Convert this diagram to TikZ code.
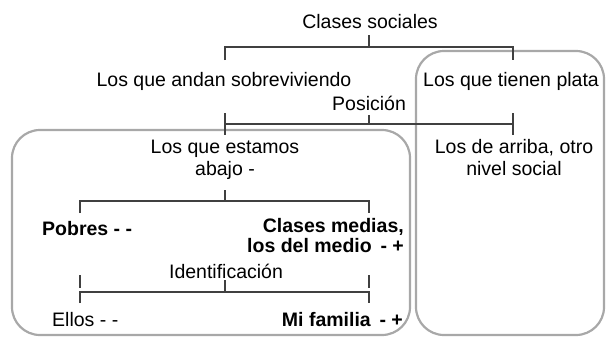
\documentclass[tikz,border=0pt]{standalone}
\usepackage{fontspec}
\setmainfont{Liberation Sans}
\definecolor{linec}{HTML}{404040}
\definecolor{boxc}{HTML}{A8A8A8}
\tikzset{
  conn/.style={draw=linec, line width=1.2pt},
  grpbox/.style={draw=boxc, line width=2.2pt, rounded corners=28pt},
  lbl/.style={inner sep=0pt, font=\fontsize{19.5}{22}\selectfont, text=black},
  blbl/.style={lbl, font=\fontsize{19.5}{20}\selectfont\bfseries},
}
\begin{document}
\begin{tikzpicture}[x=1pt,y=-1pt]
\useasboundingbox (0,0) rectangle (607,338);
% group boxes
\draw[grpbox] (12,130) rectangle (410,335);
\draw[grpbox] (416,51) rectangle (604,335);
% labels
\node[lbl, anchor=base] (cs) at (370,28) {Clases sociales};
\node[lbl, anchor=base] (sob) at (224,86) {Los que andan sobreviviendo};
\node[lbl, anchor=base] (plata) at (511,86) {Los que tienen plata};
\node[lbl, anchor=base] (pos) at (369,110) {Posición};
\node[lbl, anchor=base, align=center] (abajo) at (225,175) {Los que estamos\\abajo -};
\node[lbl, anchor=base, align=center] (arriba) at (514,175) {Los de arriba, otro\\nivel social};
\node[blbl, anchor=base west] (pobres) at (42,235) {Pobres - -};
\node[blbl, anchor=base east, align=right] (medias) at (404,252) {Clases medias,\\los del medio \,- +};
\node[lbl, anchor=base] (ident) at (226,278) {Identificación};
\node[lbl, anchor=base west] (ellos) at (52,326) {Ellos - -};
\node[blbl, anchor=base east] (familia) at (403,326) {Mi familia \,- +};
% bracket coordinates
\coordinate (t0) at (369,35);  \coordinate (t1) at (369,47);
\coordinate (tl) at (225,47);  \coordinate (tr) at (513,47);
\coordinate (tld) at (225,60); \coordinate (trd) at (513,60);
\coordinate (p0) at (369,115); \coordinate (p1) at (369,124);
\coordinate (pl) at (225,124); \coordinate (pr) at (513,124);
\coordinate (plu) at (225,113); \coordinate (pru) at (513,113);
\coordinate (pld) at (225,135); \coordinate (prd) at (513,135);
\coordinate (a0) at (225,190); \coordinate (a1) at (225,201);
\coordinate (al) at (80,201);  \coordinate (ar) at (369,201);
\coordinate (ald) at (80,213); \coordinate (ard) at (369,213);
\coordinate (i0) at (225,280); \coordinate (i1) at (225,292);
\coordinate (il) at (80,292);  \coordinate (ir) at (369,292);
\coordinate (ilu) at (80,275); \coordinate (iru) at (369,275);
\coordinate (ilm) at (80,288); \coordinate (irm) at (369,288);
\coordinate (ild) at (80,303); \coordinate (ird) at (369,303);
% brackets
\draw[conn] (t0) -- (t1);
\draw[conn] (tld) -- (tl) -- (tr) -- (trd);
\draw[conn] (p0) -- (p1);
\draw[conn] (pl) -- (pr);
\draw[conn] (plu) -- (pld);
\draw[conn] (pru) -- (prd);
\draw[conn] (a0) -- (a1);
\draw[conn] (ald) -- (al) -- (ar) -- (ard);
\draw[conn] (i0) -- (i1);
\draw[conn] (ild) -- (il) -- (ir) -- (ird);
\draw[conn] (ilu) -- (ilm);
\draw[conn] (iru) -- (irm);
\end{tikzpicture}
\end{document}
